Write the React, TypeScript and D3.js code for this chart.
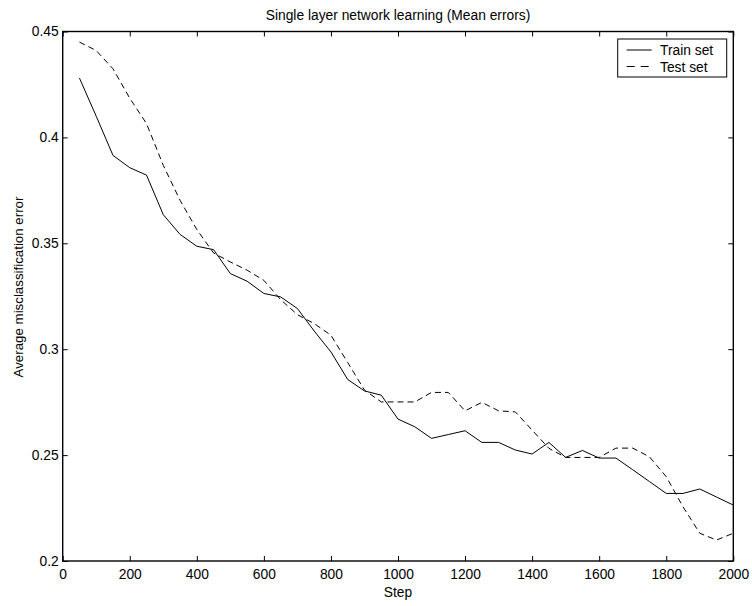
import React, { useEffect, useRef } from "react";
import * as d3 from "d3";

const steps = [50, 100, 150, 200, 250, 300, 350, 400, 450, 500, 550, 600, 650, 700, 750, 800, 850, 900, 950, 1000,
  1050, 1100, 1150, 1200, 1250, 1300, 1350, 1400, 1450, 1500, 1550, 1600, 1650, 1700, 1750, 1800, 1850, 1900, 1950, 2000];

const trainErr = [0.428, 0.410, 0.3915, 0.3857, 0.3822, 0.3635, 0.3542, 0.3486, 0.347, 0.3357,
  0.3321, 0.3263, 0.3247, 0.3192, 0.3086, 0.2987, 0.2857, 0.2803, 0.2783, 0.267,
  0.2634, 0.2579, 0.2597, 0.2615, 0.256, 0.256, 0.2524, 0.2505, 0.256, 0.2489,
  0.2522, 0.2486, 0.2486, 0.2431, 0.2375, 0.2319, 0.2319, 0.234, 0.2302, 0.2264];

const testErr = [0.445, 0.441, 0.4324, 0.4185, 0.4065, 0.3868, 0.3703, 0.3565, 0.3454, 0.3412,
  0.3373, 0.3325, 0.3234, 0.3163, 0.3121, 0.3066, 0.2937, 0.2807, 0.2751, 0.2751,
  0.2751, 0.2796, 0.2796, 0.2709, 0.2749, 0.2709, 0.2704, 0.2618, 0.2532, 0.2489,
  0.2489, 0.2489, 0.2533, 0.2533, 0.2492, 0.2398, 0.2256, 0.2131, 0.2099, 0.2131];

const xTicks = [0, 200, 400, 600, 800, 1000, 1200, 1400, 1600, 1800, 2000];
const yTicks = [0.2, 0.25, 0.3, 0.35, 0.4, 0.45];

const seriesNames = ["Train set", "Test set"];

export default function App() {
  const ref = useRef<SVGSVGElement>(null);

  useEffect(() => {
    const svg = d3.select(ref.current);
    svg.selectAll("*").remove();

    const left = 62.7, right = 733.3, top = 31.5, bottom = 561;
    const font = "'Liberation Sans', Arial, Helvetica, sans-serif";
    const fs = 13.8;

    const x = d3.scaleLinear().domain([0, 2000]).range([left, right]);
    const y = d3.scaleLinear().domain([0.2, 0.45]).range([bottom, top]);

    // axes, ticks pointing inward on all sides
    const gx = svg.append("g").attr("transform", `translate(0,${bottom})`)
      .call(d3.axisBottom(x).tickValues(xTicks).tickSizeInner(-5).tickSizeOuter(0).tickPadding(8)
        .tickFormat(d3.format("d")));
    const gxt = svg.append("g").attr("transform", `translate(0,${top})`)
      .call(d3.axisTop(x).tickValues(xTicks).tickSizeInner(-5).tickSizeOuter(0).tickFormat(() => ""));
    const gy = svg.append("g").attr("transform", `translate(${left},0)`)
      .call(d3.axisLeft(y).tickValues(yTicks).tickSizeInner(-5).tickSizeOuter(0).tickPadding(4)
        .tickFormat(d => String(+d)));
    const gyr = svg.append("g").attr("transform", `translate(${right},0)`)
      .call(d3.axisRight(y).tickValues(yTicks).tickSizeInner(-5).tickSizeOuter(0).tickFormat(() => ""));

    [gx, gxt, gy, gyr].forEach(g => {
      g.select(".domain").remove();
      g.selectAll("line").attr("stroke", "#000").attr("stroke-width", 1);
      g.selectAll("text").attr("font-family", font).attr("font-size", fs).attr("fill", "#000");
    });

    svg.append("rect")
      .attr("x", left).attr("y", top)
      .attr("width", right - left).attr("height", bottom - top)
      .attr("fill", "none").attr("stroke", "#000").attr("stroke-width", 1.4);

    const line = d3.line<number>()
      .x((d, i) => x(steps[i]))
      .y(d => y(d));

    svg.append("path").datum(trainErr)
      .attr("d", line).attr("fill", "none").attr("stroke", "#000").attr("stroke-width", 1);
    svg.append("path").datum(testErr)
      .attr("d", line).attr("fill", "none").attr("stroke", "#000").attr("stroke-width", 1)
      .attr("stroke-dasharray", "6,4");

    // title and labels
    svg.append("text").attr("x", (left + right) / 2).attr("y", 19.5)
      .attr("text-anchor", "middle").attr("font-family", font).attr("font-size", fs)
      .text("Single layer network learning (Mean errors)");
    svg.append("text").attr("x", (left + right) / 2).attr("y", 596.5)
      .attr("text-anchor", "middle").attr("font-family", font).attr("font-size", fs)
      .text("Step");
    svg.append("text")
      .attr("transform", `translate(22.5,287) rotate(-90)`)
      .attr("text-anchor", "middle").attr("font-family", font).attr("font-size", 13.3)
      .text("Average misclassification error");

    // legend
    const lg = svg.append("g");
    lg.append("rect").attr("x", 617.7).attr("y", 39).attr("width", 109).attr("height", 38)
      .attr("fill", "#fff").attr("stroke", "#000").attr("stroke-width", 1);
    seriesNames.forEach((name, i) => {
      const ly = 50 + i * 16.5;
      lg.append("line").attr("x1", 626.7).attr("x2", 651.7).attr("y1", ly).attr("y2", ly)
        .attr("stroke", "#000").attr("stroke-width", 1)
        .attr("stroke-dasharray", i === 1 ? "8,6" : null);
      lg.append("text").attr("x", 660).attr("y", ly + 5)
        .attr("font-family", font).attr("font-size", fs).text(name);
    });
  }, []);

  return (
    <svg ref={ref} width={752} height={606}
      style={{ position: "absolute", left: 0, top: 0, background: "#fff" }} />
  );
}
